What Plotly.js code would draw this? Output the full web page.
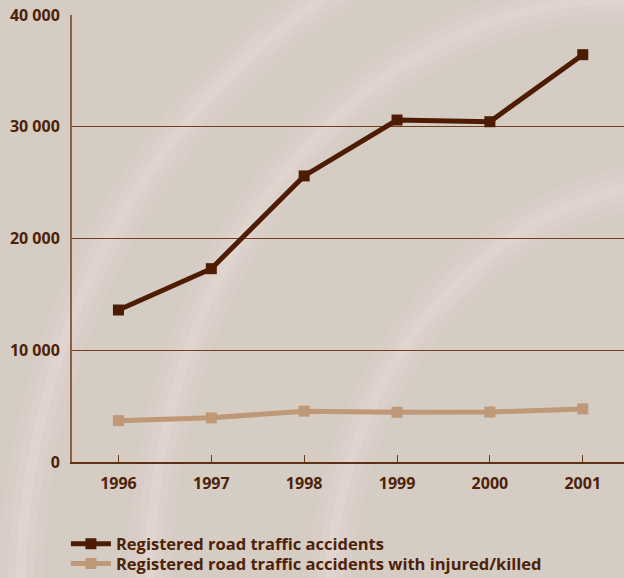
<!DOCTYPE html>
<html>
<head>
<meta charset="utf-8">
<script src="https://cdn.plot.ly/plotly-3.0.1.min.js"></script>
<style>html,body{margin:0;padding:0;background:#d5ccc4;}#chart{width:624px;height:578px;}</style>
</head>
<body>
<div id="chart"></div>
<script>
const years = [1996, 1997, 1998, 1999, 2000, 2001];
const accidents = [13600, 17300, 25600, 30600, 30450, 36450];
const injuredKilled = [3700, 3950, 4550, 4450, 4470, 4750];
const seriesNames = ["Registered road traffic accidents", "Registered road traffic accidents with injured/killed"];
const yTickVals = [0, 10000, 20000, 30000, 40000];
const yTickText = ["0", "10 000", "20 000", "30 000", "40 000"];

const txt = "#4e2208";
const fontFam = "'Open Sans', sans-serif";

const traces = [
  {x: years, y: accidents, name: seriesNames[0], type: "scatter", mode: "lines+markers", legend: "legend",
   line: {color: "#4e1c02", width: 5}, marker: {symbol: "square", size: 11, color: "#4e1c02"}},
  {x: years, y: injuredKilled, name: seriesNames[1], type: "scatter", mode: "lines+markers", legend: "legend2",
   line: {color: "#bf9877", width: 5}, marker: {symbol: "square", size: 11, color: "#bf9877"}}
];

// soft light streaks of the background picture (paper coordinates)
const arcs = [
  {x0: -0.094, y0: -1.875, x1: 2.152, y1: 1.257},
  {x0: 0.141, y0: -1.562, x1: 1.844, y1: 1.034},
  {x0: 0.467, y0: -1.248, x1: 1.808, y1: 0.631}
];
const strokes = [{w: 44, o: 0.07}, {w: 26, o: 0.09}, {w: 10, o: 0.12}];
const shapes = [];
arcs.forEach(a => strokes.forEach(s => shapes.push({type: "circle", xref: "paper", yref: "paper",
  x0: a.x0, y0: a.y0, x1: a.x1, y1: a.y1,
  line: {color: "rgba(252,244,238," + s.o + ")", width: s.w}, layer: "below"})));

const legFont = {family: fontFam, size: 16.5, color: txt, weight: 700};
const layout = {
  width: 624, height: 578,
  margin: {l: 72, r: 0, t: 15, b: 116},
  paper_bgcolor: "#d5ccc4", plot_bgcolor: "rgba(0,0,0,0)",
  font: {family: fontFam, color: txt, size: 17, weight: 700},
  showlegend: true,
  legend: {x: -0.011, xanchor: "left", yref: "container", y: 0.0588, yanchor: "middle", bgcolor: "rgba(0,0,0,0)",
    font: legFont, itemwidth: 40, borderwidth: 0},
  legend2: {x: -0.011, xanchor: "left", yref: "container", y: 0.0245, yanchor: "middle", bgcolor: "rgba(0,0,0,0)",
    font: legFont, itemwidth: 40, borderwidth: 0},
  xaxis: {range: [1995.5, 2001.444], tickvals: years, ticktext: years.map(String),
    ticks: "inside", ticklen: 7, tickcolor: "#6a3a1a", tickwidth: 1,
    showline: true, linecolor: "#5e3014", linewidth: 2, showgrid: false, zeroline: false,
    tickfont: {family: fontFam, size: 16, color: txt, weight: 700}, ticklabelstandoff: 6, fixedrange: true},
  yaxis: {range: [0, 40000], tickvals: yTickVals, ticktext: yTickText,
    showline: true, linecolor: "#8f6040", linewidth: 2, showgrid: true, gridcolor: "#74401f", gridwidth: 1,
    zeroline: false, ticks: "", tickfont: {family: fontFam, size: 16, color: txt, weight: 700}, ticklabelstandoff: 7, fixedrange: true},
  shapes: shapes
};

Plotly.newPlot("chart", traces, layout, {displayModeBar: false, staticPlot: true});
</script>
</body>
</html>
